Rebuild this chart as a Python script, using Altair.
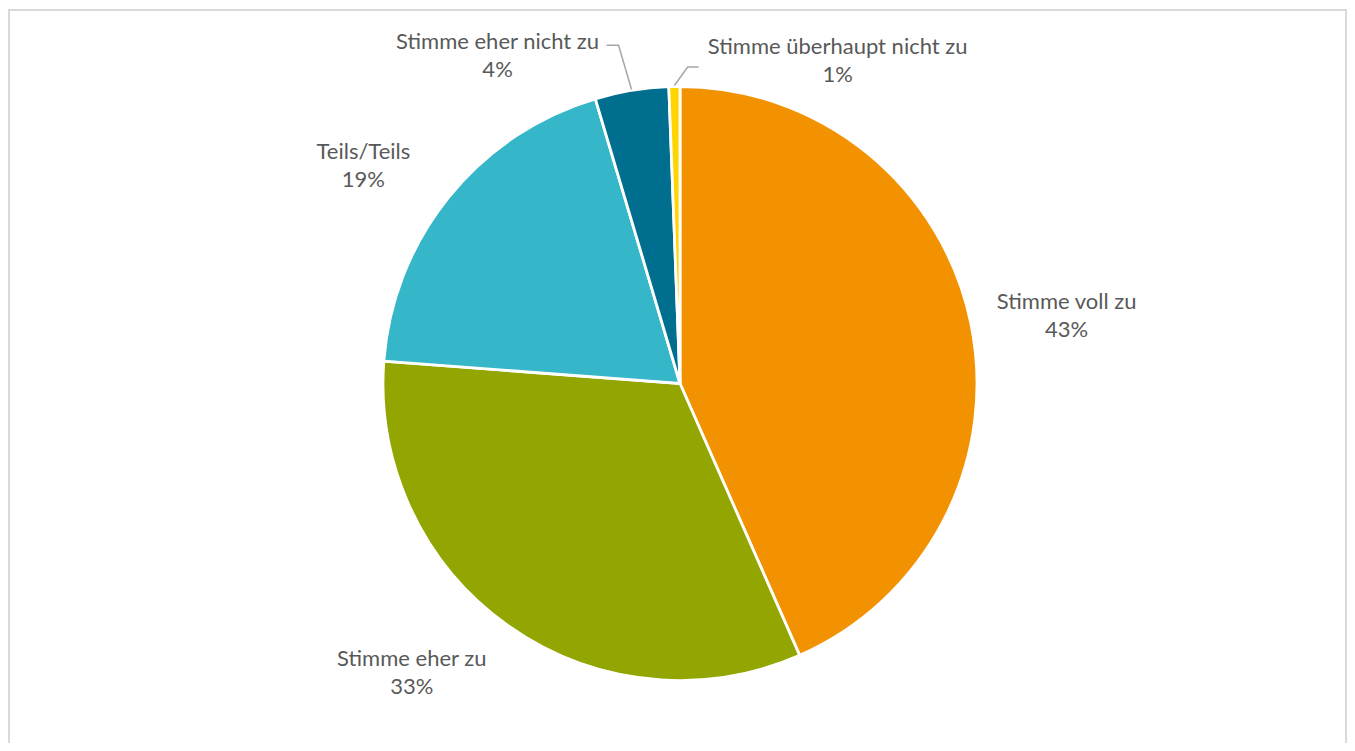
import altair as alt
import pandas as pd
import numpy as np

# ---- data ----
categories = ["Stimme voll zu", "Stimme eher zu", "Teils/Teils",
              "Stimme eher nicht zu", "Stimme überhaupt nicht zu"]
values = [43.4, 32.8, 19.2, 4.0, 0.6]
colors = ["#F39200", "#93A500", "#35B7C9", "#006E8F", "#FFD500"]

# ---- layout / style ----
W, H = 1339, 735
CX, CY = 672, 375.5          # pie centre in chart pixels
R = 297                      # pie radius
LABEL_R = 390                # base label radius
TEXT_COLOR = "#595959"
FONT = "Lato"
# label nudges (pixels) relative to the polar anchor at the slice middle
NUDGE = {
    "Stimme voll zu": (5, 13),
    "Stimme eher zu": (-43, -29),
    "Teils/Teils": (-13, 27),
    "Stimme eher nicht zu": (-119, 57),
    "Stimme überhaupt nicht zu": (165, 67),
}
# leader line: (elbow offset from label, end offset from label)
LEADERS = {
    "Stimme eher nicht zu": ((121, -10.5), (109, -10.5)),
    "Stimme überhaupt nicht zu": ((-150, 6.5), (-139, 6.5)),
}

total = sum(values)
cum = np.cumsum([0] + values[:-1])
mid = (cum + np.array(values) / 2) / total * 2 * np.pi
pct = [f"{round(v / total * 100)}%" for v in values]

pie_df = pd.DataFrame({"category": categories, "value": values,
                       "idx": range(len(categories))})

lab_rows, lead_rows = [], []
for i, c in enumerate(categories):
    lx = LABEL_R * np.sin(mid[i]) + NUDGE[c][0]
    ly = -LABEL_R * np.cos(mid[i]) + NUDGE[c][1]
    lab_rows.append({"category": c, "x": lx, "y": ly, "text": f"{c}\n{pct[i]}"})
    if c in LEADERS:
        ex, ey = (R + 1) * np.sin(mid[i]), -(R + 1) * np.cos(mid[i])
        (bx, by), (tx, ty) = LEADERS[c]
        pts = [(ex, ey), (lx + bx, ly + by), (lx + tx, ly + ty)]
        for k, (px, py) in enumerate(pts):
            lead_rows.append({"category": c, "k": k, "x": px, "y": py})
lab_df = pd.DataFrame(lab_rows)
lead_df = pd.DataFrame(lead_rows)

xs = alt.Scale(domain=[-CX, W - CX], range=[0, W], nice=False, zero=False)
ys = alt.Scale(domain=[-CY, H - CY], range=[0, H], nice=False, zero=False)

pie = alt.Chart(pie_df).mark_arc(outerRadius=R, stroke="white", strokeWidth=2.8).encode(
    theta=alt.Theta("value:Q", stack=True),
    color=alt.Color("category:N", scale=alt.Scale(domain=categories, range=colors), legend=None),
    order=alt.Order("idx:Q"),
    x=alt.XDatum(0, type="quantitative", scale=xs, axis=None),
    y=alt.YDatum(0, type="quantitative", scale=ys, axis=None),
)

leaders = alt.Chart(lead_df).mark_line(color="#A6A6A6", strokeWidth=1.5).encode(
    x=alt.X("x:Q", scale=xs, axis=None),
    y=alt.Y("y:Q", scale=ys, axis=None),
    detail="category:N",
    order="k:Q",
)

labels = alt.Chart(lab_df).mark_text(
    font=FONT, fontSize=22, color=TEXT_COLOR, align="center", baseline="middle",
    lineBreak="\n", lineHeight=28, dy=-14,
).encode(
    x=alt.X("x:Q", scale=xs, axis=None),
    y=alt.Y("y:Q", scale=ys, axis=None),
    text="text:N",
)

border = alt.Chart(pie_df).mark_rect(fill=None, stroke="#D9D9D9", strokeWidth=2).encode(
    x=alt.value(1), x2=alt.value(W - 1), y=alt.value(2), y2=alt.value(H + 40),
)

chart = alt.layer(border, pie, leaders, labels).properties(
    width=W, height=H, padding=0, autosize=alt.AutoSizeParams(type="none"),
    background="white",
).configure_view(stroke=None)

chart.save("out.html", embed_options={"renderer": "svg", "actions": False})
